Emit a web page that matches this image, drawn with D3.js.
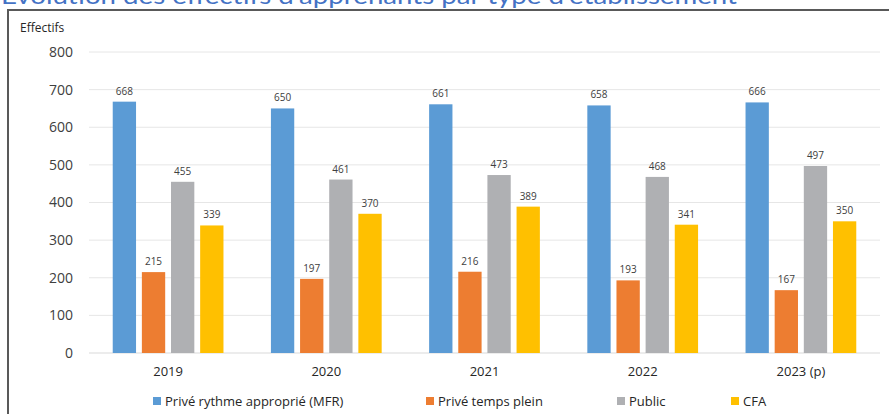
<!DOCTYPE html>
<html lang="fr">

<head>
  <meta charset="utf-8">
  <title>Évolution des effectifs d'apprenants</title>
  <script src="https://cdnjs.cloudflare.com/ajax/libs/d3/7.6.1/d3.min.js"></script>
  <style>
    body { margin: 0; background: white; }
  </style>
</head>

<body>

  <div id="chart"></div>

  <script>
    // data

    const years = ['2019', '2020', '2021', '2022', '2023 (p)'];
    const seriesNames = ['Privé rythme approprié (MFR)', 'Privé temps plein', 'Public', 'CFA'];
    const mfr = [668, 650, 661, 658, 666];
    const priveTempsPlein = [215, 197, 216, 193, 167];
    const publicValues = [455, 461, 473, 468, 497];
    const cfa = [339, 370, 389, 341, 350];
    const yTicks = [0, 100, 200, 300, 400, 500, 600, 700, 800];
    const colors = ['#5B9BD5', '#ED7D31', '#AFB0B3', '#FFC000'];

    const allSeries = [mfr, priveTempsPlein, publicValues, cfa];

    createChart('#chart', 889, 414);

    function createChart(elementId, width, height) {

      const plotLeft = 89;
      const plotRight = 880;
      const plotTop = 52;
      const plotBottom = 353;

      const svg = d3.select(elementId)
        .append('svg')
        .attr('width', width)
        .attr('height', height)
        .style('display', 'block');

      // title, cut off at the top of the frame

      svg.append('text')
        .attr('x', 1)
        .attr('y', 4)
        .attr('textLength', 736)
        .attr('lengthAdjust', 'spacingAndGlyphs')
        .style('font-family', 'Lato, "Open Sans", sans-serif')
        .style('font-size', '24px')
        .style('fill', '#4472C4')
        .text("Évolution des effectifs d'apprenants par type d'établissement");

      // frame

      svg.append('rect')
        .attr('x', 8)
        .attr('y', 10)
        .attr('width', 900)
        .attr('height', 440)
        .attr('fill', 'white')
        .attr('stroke', '#595959')
        .attr('stroke-width', 2);

      // scales

      const x0 = d3.scaleBand()
        .domain(years)
        .range([plotLeft, plotRight])
        .paddingInner(0.3)
        .paddingOuter(0.15);

      const x1 = d3.scaleBand()
        .domain(seriesNames)
        .range([0, x0.bandwidth()])
        .paddingInner(0.2);

      const y = d3.scaleLinear()
        .domain([0, 800])
        .range([plotBottom, plotTop]);

      // grid

      svg.append('g')
        .selectAll('line')
        .data(yTicks)
        .enter()
        .append('line')
        .attr('x1', plotLeft)
        .attr('x2', plotRight)
        .attr('y1', d => y(d))
        .attr('y2', d => y(d))
        .attr('stroke', d => d === 0 ? '#D9D9D9' : '#E6E6E6')
        .attr('stroke-width', 1);

      // y axis labels

      const yAxis = d3.axisLeft(y)
        .tickValues(yTicks)
        .tickSize(0)
        .tickPadding(16);

      const yAxisGroup = svg.append('g')
        .attr('transform', `translate(${plotLeft}, 0)`)
        .call(yAxis);
      yAxisGroup.select('.domain').remove();
      yAxisGroup.selectAll('text')
        .style('font-family', '"Open Sans", sans-serif')
        .style('font-size', '14px')
        .style('fill', '#404040');

      svg.append('text')
        .attr('x', 20)
        .attr('y', 32)
        .style('font-family', '"Open Sans", sans-serif')
        .style('font-size', '12px')
        .style('fill', '#262626')
        .text('Effectifs');

      // x axis labels

      const xAxis = d3.axisBottom(x0)
        .tickSize(0)
        .tickPadding(14);

      const xAxisGroup = svg.append('g')
        .attr('transform', `translate(0, ${plotBottom})`)
        .call(xAxis);
      xAxisGroup.select('.domain').remove();
      xAxisGroup.selectAll('text')
        .style('font-family', '"Open Sans", sans-serif')
        .style('font-size', '13px')
        .style('fill', '#262626');

      // bars

      const barData = [];
      years.forEach((year, i) => {
        seriesNames.forEach((name, s) => {
          barData.push({ year: year, series: name, index: s, value: allSeries[s][i] });
        });
      });

      const bars = svg.append('g')
        .selectAll('rect')
        .data(barData)
        .enter()
        .append('rect')
        .attr('x', d => x0(d.year) + x1(d.series))
        .attr('y', d => y(d.value))
        .attr('width', x1.bandwidth())
        .attr('height', d => plotBottom - y(d.value))
        .attr('fill', d => colors[d.index]);

      // value labels

      svg.append('g')
        .selectAll('text')
        .data(barData)
        .enter()
        .append('text')
        .attr('x', d => x0(d.year) + x1(d.series) + x1.bandwidth() / 2)
        .attr('y', d => y(d.value) - 7)
        .attr('text-anchor', 'middle')
        .style('font-family', '"Open Sans", sans-serif')
        .style('font-size', '10px')
        .style('fill', '#404040')
        .text(d => d.value);

      // legend

      const legendX = [153, 426, 617, 731];

      const legend = svg.append('g')
        .selectAll('g')
        .data(seriesNames)
        .enter()
        .append('g')
        .attr('transform', (d, i) => `translate(${legendX[i]}, 397)`);

      legend.append('rect')
        .attr('width', 8)
        .attr('height', 8)
        .attr('fill', (d, i) => colors[i]);

      legend.append('text')
        .attr('x', 12)
        .attr('y', 9)
        .style('font-family', '"Open Sans", sans-serif')
        .style('font-size', '13px')
        .style('fill', '#262626')
        .text(d => d);
    }
  </script>

</body>

</html>
